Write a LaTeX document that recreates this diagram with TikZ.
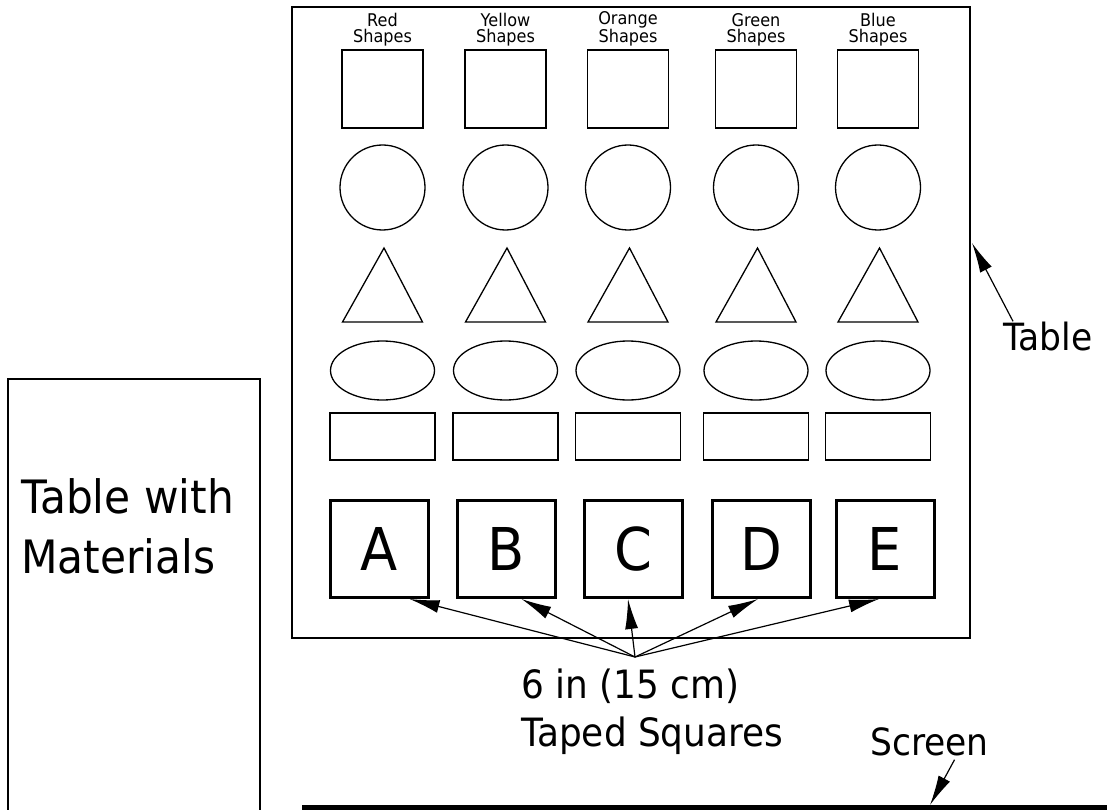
\documentclass[tikz,border=0pt]{standalone}
\usepackage{fontspec}
\setmainfont{DejaVu Sans}[FakeStretch=0.92]
\usetikzlibrary{arrows.meta}
\tikzset{
    outline/.style={draw, line width=1.3pt},
    letterbox/.style={draw, line width=3pt, minimum width=98pt, minimum height=97pt,
        inner sep=0pt, font=\fontsize{59}{59}\selectfont},
    shapelabel/.style={align=center, inner sep=0pt, text depth=0pt, anchor=south,
        font=\fontsize{17.5}{16}\selectfont},
    pointer/.style={-{Latex[length=30pt,width=13pt]}, line width=1.2pt},
}
\begin{document}
\begin{tikzpicture}[x=1pt,y=-1pt]
        \useasboundingbox (0,0) rectangle (1107,810);

        % Define the arrow ends
        \coordinate (tape) at (635,657);
        \coordinate (tableedge) at (972,243);
        \coordinate (screenedge) at (930,805);

        % Draw the tables and the screen
        \draw[line width=1.5pt] (292,7) rectangle (970,638);
        \draw[line width=1.2pt] (8,379) rectangle (260,830);
        \draw[line width=5pt] (302,807) -- (1115,807);

        % Draw the shapes of each colour
        \foreach \x/\col in {382.5/Red,505.5/Yellow,628/Orange,756/Green,878/Blue}{
            \node[shapelabel] (\col lbl) at (\x,43) {\col\\Shapes};
            \draw[outline] ({\x-40.5},50) rectangle ({\x+40.5},128);
            \draw[outline] (\x,187.5) circle (42.5);
            \draw[outline] ({\x-40},322) -- ({\x+1.5},248) -- ({\x+40},322) -- cycle;
            \draw[outline] (\x,370.5) ellipse (52 and 29.5);
            \draw[outline] ({\x-52.5},413) rectangle ({\x+52.5},460);
        }

        % Taped squares
        \node[letterbox] (A) at (379.5,549) {A};
        \node[letterbox] (B) at (506.5,549) {B};
        \node[letterbox] (C) at (633,549) {C};
        \node[letterbox] (D) at (761,549) {D};
        \node[letterbox] (E) at (885,549) {E};

        % Labels
        \node[align=left, anchor=south west, inner sep=0pt, text depth=0pt,
            font=\fontsize{46}{60}\selectfont] (materials) at (21,574) {Table with\\Materials};
        \node[align=left, anchor=south west, inner sep=0pt, text depth=0pt,
            font=\fontsize{39}{48}\selectfont] (squares) at (521,747) {6 in (15 cm)\\Taped Squares};
        \node[anchor=base west, inner sep=0pt, font=\fontsize{37.5}{40}\selectfont] (tablelbl) at (1003,350) {Table};
        \node[anchor=base west, inner sep=0pt, font=\fontsize{37.5}{40}\selectfont] (screenlbl) at (870,755) {Screen};

        % Arrows
        \foreach \n/\dx in {A/30,B/15,C/-5,D/-3,E/-6}
            \draw[pointer] (tape) -- ([xshift=\dx pt]\n.south);
        \draw[pointer] ([xshift=10pt]tablelbl.north west) -- (tableedge);
        \draw[pointer] ([xshift=25pt,yshift=-4pt]screenlbl.south) -- (screenedge);
\end{tikzpicture}
\end{document}
